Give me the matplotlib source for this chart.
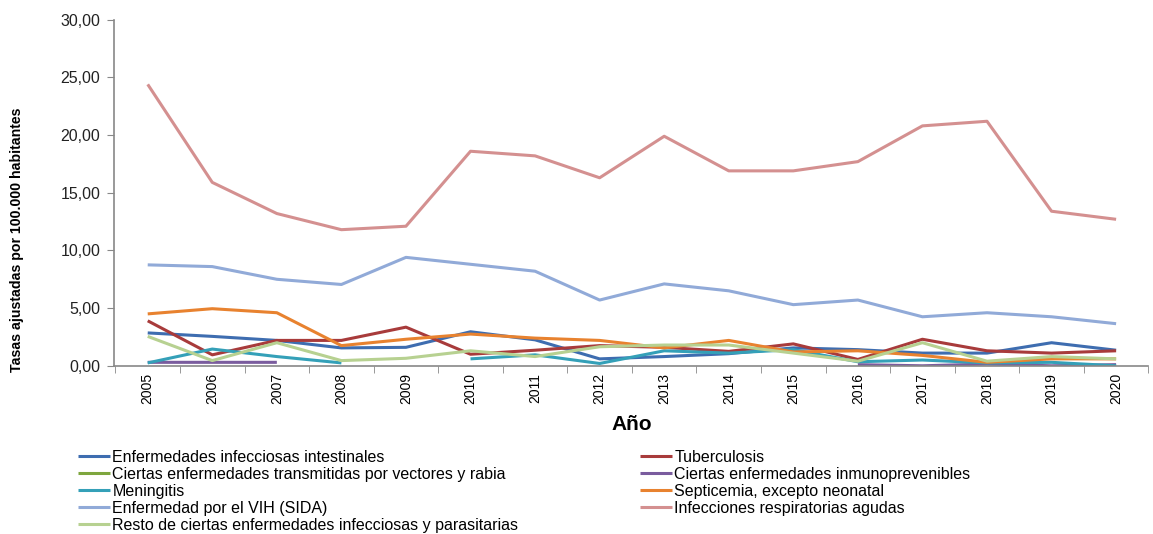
import matplotlib.pyplot as plt
import numpy as np

nan = np.nan

anios = list(range(2005, 2021))

intestinales = [2.85, 2.55, 2.2, 1.55, 1.6, 2.95, 2.25, 0.6, 0.8, 1.05, 1.55, 1.4, 1.1, 1.1, 2.0, 1.35]
tuberculosis = [3.9, 0.95, 2.2, 2.2, 3.35, 1.0, 1.35, 1.75, 1.6, 1.25, 1.9, 0.55, 2.3, 1.3, 1.1, 1.3]
vectores = [nan] * 16
inmunoprevenibles = [0.3, 0.3, 0.3, nan, nan, nan, nan, nan, nan, nan, nan, 0.1, 0.0, 0.15, 0.0, 0.1]
meningitis = [0.25, 1.45, 0.8, 0.25, nan, 0.6, 0.95, 0.2, 1.3, 1.1, 1.4, 0.35, 0.5, 0.25, 0.3, 0.0]
septicemia = [4.5, 4.95, 4.6, 1.75, 2.3, 2.75, 2.4, 2.2, 1.55, 2.2, 1.2, 1.3, 0.9, 0.3, 0.6, 0.6]
vih = [8.75, 8.6, 7.5, 7.05, 9.4, 8.8, 8.2, 5.7, 7.1, 6.5, 5.3, 5.7, 4.25, 4.6, 4.25, 3.65]
respiratorias = [24.4, 15.9, 13.2, 11.8, 12.1, 18.6, 18.2, 16.3, 19.9, 16.9, 16.9, 17.7, 20.8, 21.2, 13.4, 12.7]
resto = [2.55, 0.45, 2.0, 0.45, 0.65, 1.3, 0.8, 1.65, 1.8, 1.8, 1.1, 0.4, 2.0, 0.4, 0.8, 0.6]

series = [
    ("Enfermedades infecciosas intestinales", intestinales, "#3E6DB0"),
    ("Tuberculosis", tuberculosis, "#A83B3B"),
    ("Ciertas enfermedades transmitidas por vectores y rabia", vectores, "#7EA63E"),
    ("Ciertas enfermedades inmunoprevenibles", inmunoprevenibles, "#7A5C9E"),
    ("Meningitis", meningitis, "#34A0B8"),
    ("Septicemia, excepto neonatal", septicemia, "#E8822F"),
    ("Enfermedad por el VIH (SIDA)", vih, "#91AAD8"),
    ("Infecciones respiratorias agudas", respiratorias, "#D49090"),
    ("Resto de ciertas enfermedades infecciosas y parasitarias", resto, "#B7D191"),
]

plt.rcParams['font.family'] = ['Liberation Sans', 'DejaVu Sans']

fig = plt.figure(figsize=(11.53, 5.34), dpi=100)
ax = fig.add_axes([0.099, 0.315, 0.897, 0.648])

lines = []
for nombre, valores, color in series:
    ln, = ax.plot(anios, valores, color=color, linewidth=2.2, label=nombre,
                  solid_capstyle='butt')
    lines.append(ln)

ax.set_xlim(2004.48, 2020.3)
ax.set_ylim(0, 30)
ax.set_yticks(np.arange(0, 31, 5))
ax.set_yticklabels([f"{v:.2f}".replace('.', ',') for v in np.arange(0, 31, 5)],
                   fontsize=11.5, color='#222222')
ax.set_xticks(anios)
ax.set_xticklabels([str(a) for a in anios], rotation=90, fontsize=10)
ax.set_xticks(np.arange(2004.5, 2020.6, 1), minor=True)
ax.tick_params(axis='x', which='major', length=0, pad=5)
ax.tick_params(axis='x', which='minor', length=5, color='#888888', direction='out')
ax.tick_params(axis='y', length=5, color='#888888', direction='out', pad=5)

for s in ['top', 'right']:
    ax.spines[s].set_visible(False)
for s in ['left', 'bottom']:
    ax.spines[s].set_color('#888888')
    ax.spines[s].set_linewidth(1.2)

ax.set_ylabel("Tasas ajustadas por 100.000 habitantes", fontsize=10.2,
              fontweight='bold')
ax.yaxis.set_label_coords(-0.087, 0.364)
fig.text(0.548, 0.205, "Año", fontsize=15, fontweight='bold', ha='center', va='center')

orden = [0, 2, 4, 6, 8, 1, 3, 5, 7]
fig.legend([lines[i] for i in orden], [series[i][0] for i in orden],
           loc='upper left', bbox_to_anchor=(0.0677, 0.158), ncol=2,
           frameon=False, fontsize=11.5, handlelength=2.0, handletextpad=0.15,
           labelspacing=0.13, columnspacing=7.6, borderaxespad=0, borderpad=0)

fig.savefig("out.png", dpi=100)
